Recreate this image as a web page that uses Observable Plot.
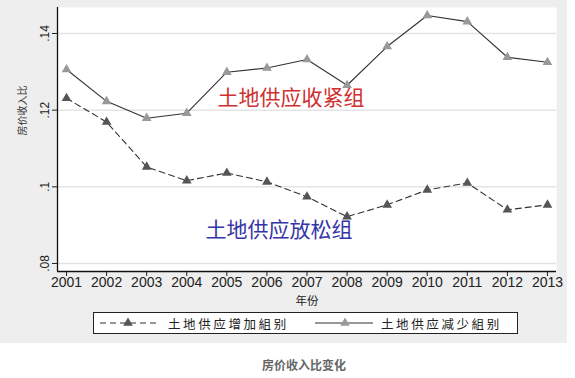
<!DOCTYPE html>
<html>
<head>
<meta charset="utf-8">
<script src="https://cdn.jsdelivr.net/npm/d3@7"></script>
<script src="https://cdn.jsdelivr.net/npm/@observablehq/plot@0.6"></script>
<style>
  html, body { margin: 0; padding: 0; background: #ffffff; }
  #wrap { position: relative; width: 575px; height: 378px; background: #ffffff; font-family: "Liberation Sans", Arial, sans-serif; }
  #panel { position: absolute; left: 0; top: 0; width: 567px; height: 343px; background: #eeeeee; }
  #chart { position: absolute; left: 0; top: 0; }
  #legend { position: absolute; left: 93px; top: 312px; width: 423px; height: 20px; border: 1px solid #222; background: #ffffff; }
  #legend .item { position: absolute; top: 0; height: 20px; display: flex; align-items: center; }
  #legend .lab { font-family: "Noto Sans CJK SC", sans-serif; font-size: 12.5px; letter-spacing: 2.6px; color: #222; margin-left: 8px; }
  #caption { position: absolute; left: 0; width: 608px; top: 356px; text-align: center; font-family: "Noto Sans CJK SC", sans-serif; font-weight: bold; font-size: 12px; color: #666; }
</style>
</head>
<body>
<div id="wrap">
  <div id="panel"><div id="chart"></div>
    <div id="legend">
      <div class="item" style="left:6px"><svg id="s1" width="60" height="20"></svg><span class="lab">土地供应增加組别</span></div>
      <div class="item" style="left:221px"><svg id="s2" width="58" height="20"></svg><span class="lab">土地供应减少組别</span></div>
    </div>
  </div>
  <div id="caption">房价收入比变化</div>
</div>
<script>
const years = [2001, 2002, 2003, 2004, 2005, 2006, 2007, 2008, 2009, 2010, 2011, 2012, 2013];
// 土地供应增加组别 (dashed, 放松组)
const increaseGroup = [0.1231, 0.1169, 0.1052, 0.1016, 0.1036, 0.1013, 0.0974, 0.0922, 0.0953, 0.0992, 0.1010, 0.0940, 0.0953];
// 土地供应减少组别 (solid, 收紧组)
const decreaseGroup = [0.1306, 0.1223, 0.1179, 0.1192, 0.1299, 0.1310, 0.1332, 0.1265, 0.1366, 0.1447, 0.1431, 0.1338, 0.1325];
const seriesNames = ["土地供应增加組别", "土地供应减少組别"];
const yTicks = [0.08, 0.10, 0.12, 0.14];
const annotations = [
  {x: 2006.6, y: 0.1231, text: "土地供应收紧组", color: "#d03030"},
  {x: 2006.3, y: 0.0886, text: "土地供应放松组", color: "#3535a8"}
];

const inc = years.map((yr, i) => ({year: yr, value: increaseGroup[i], series: seriesNames[0]}));
const dec = years.map((yr, i) => ({year: yr, value: decreaseGroup[i], series: seriesNames[1]}));

const fmt = d => String(+d.toFixed(2)).replace(/^0/, "");

const chart = Plot.plot({
  width: 567,
  height: 311,
  marginLeft: 57,
  marginRight: 11,
  marginTop: 7,
  marginBottom: 40,
  style: {background: "transparent", fontFamily: "'Liberation Sans', Arial, sans-serif", color: "#222"},
  x: {domain: [2000.775, 2013.225]},
  y: {domain: [0.07791, 0.14678]},
  marks: [
    Plot.frame({fill: "#ffffff", stroke: null}),
    Plot.gridY(yTicks, {stroke: "#e4e4e4", strokeOpacity: 1, strokeWidth: 1.5}),
    Plot.ruleX([2000.775], {stroke: "#111", strokeWidth: 1.3}),
    Plot.ruleY([0.07791], {stroke: "#111", strokeWidth: 1.3}),
    Plot.axisX(years, {tickFormat: d => String(d), tickSize: 5, fontSize: 14, tickPadding: 1, label: null}),
    Plot.axisY(yTicks, {tickFormat: fmt, tickSize: 5, fontSize: 12, tickRotate: -90, tickPadding: 4, label: null}),
    Plot.text(["房价收入比"], {frameAnchor: "left", dx: -35, dy: -4, rotate: -90, fontSize: 10, fontFamily: "'Noto Sans CJK SC', serif", fill: "#333"}),
    Plot.text(["年份"], {frameAnchor: "bottom", dy: 33, fontSize: 11.5, fontFamily: "'Noto Sans CJK SC', sans-serif", fill: "#222"}),
    Plot.line(inc, {x: "year", y: "value", stroke: "#333", strokeWidth: 1.1, strokeDasharray: "6,4"}),
    Plot.line(dec, {x: "year", y: "value", stroke: "#333", strokeWidth: 1.1}),
    Plot.dot(inc, {x: "year", y: "value", symbol: "triangle", r: 3.6, fill: "#555", stroke: null}),
    Plot.dot(dec, {x: "year", y: "value", symbol: "triangle", r: 3.6, fill: "#999", stroke: null}),
    Plot.text(annotations, {x: "x", y: "y", text: "text", fill: "color", fontSize: 21, fontFamily: "'Noto Sans CJK SC', serif"})
  ]
});
document.getElementById("chart").appendChild(chart);

// legend samples
const s1 = d3.select("#s1");
s1.append("line").attr("x1", 0).attr("x2", 60).attr("y1", 10).attr("y2", 10).attr("stroke", "#333").attr("stroke-width", 1.1).attr("stroke-dasharray", "6,4");
s1.append("path").attr("d", d3.symbol(d3.symbolTriangle, 40)()).attr("transform", "translate(28,10)").attr("fill", "#555");
const s2 = d3.select("#s2");
s2.append("line").attr("x1", 0).attr("x2", 58).attr("y1", 10).attr("y2", 10).attr("stroke", "#333").attr("stroke-width", 1.1);
s2.append("path").attr("d", d3.symbol(d3.symbolTriangle, 40)()).attr("transform", "translate(30,10)").attr("fill", "#999");
</script>
</body>
</html>
